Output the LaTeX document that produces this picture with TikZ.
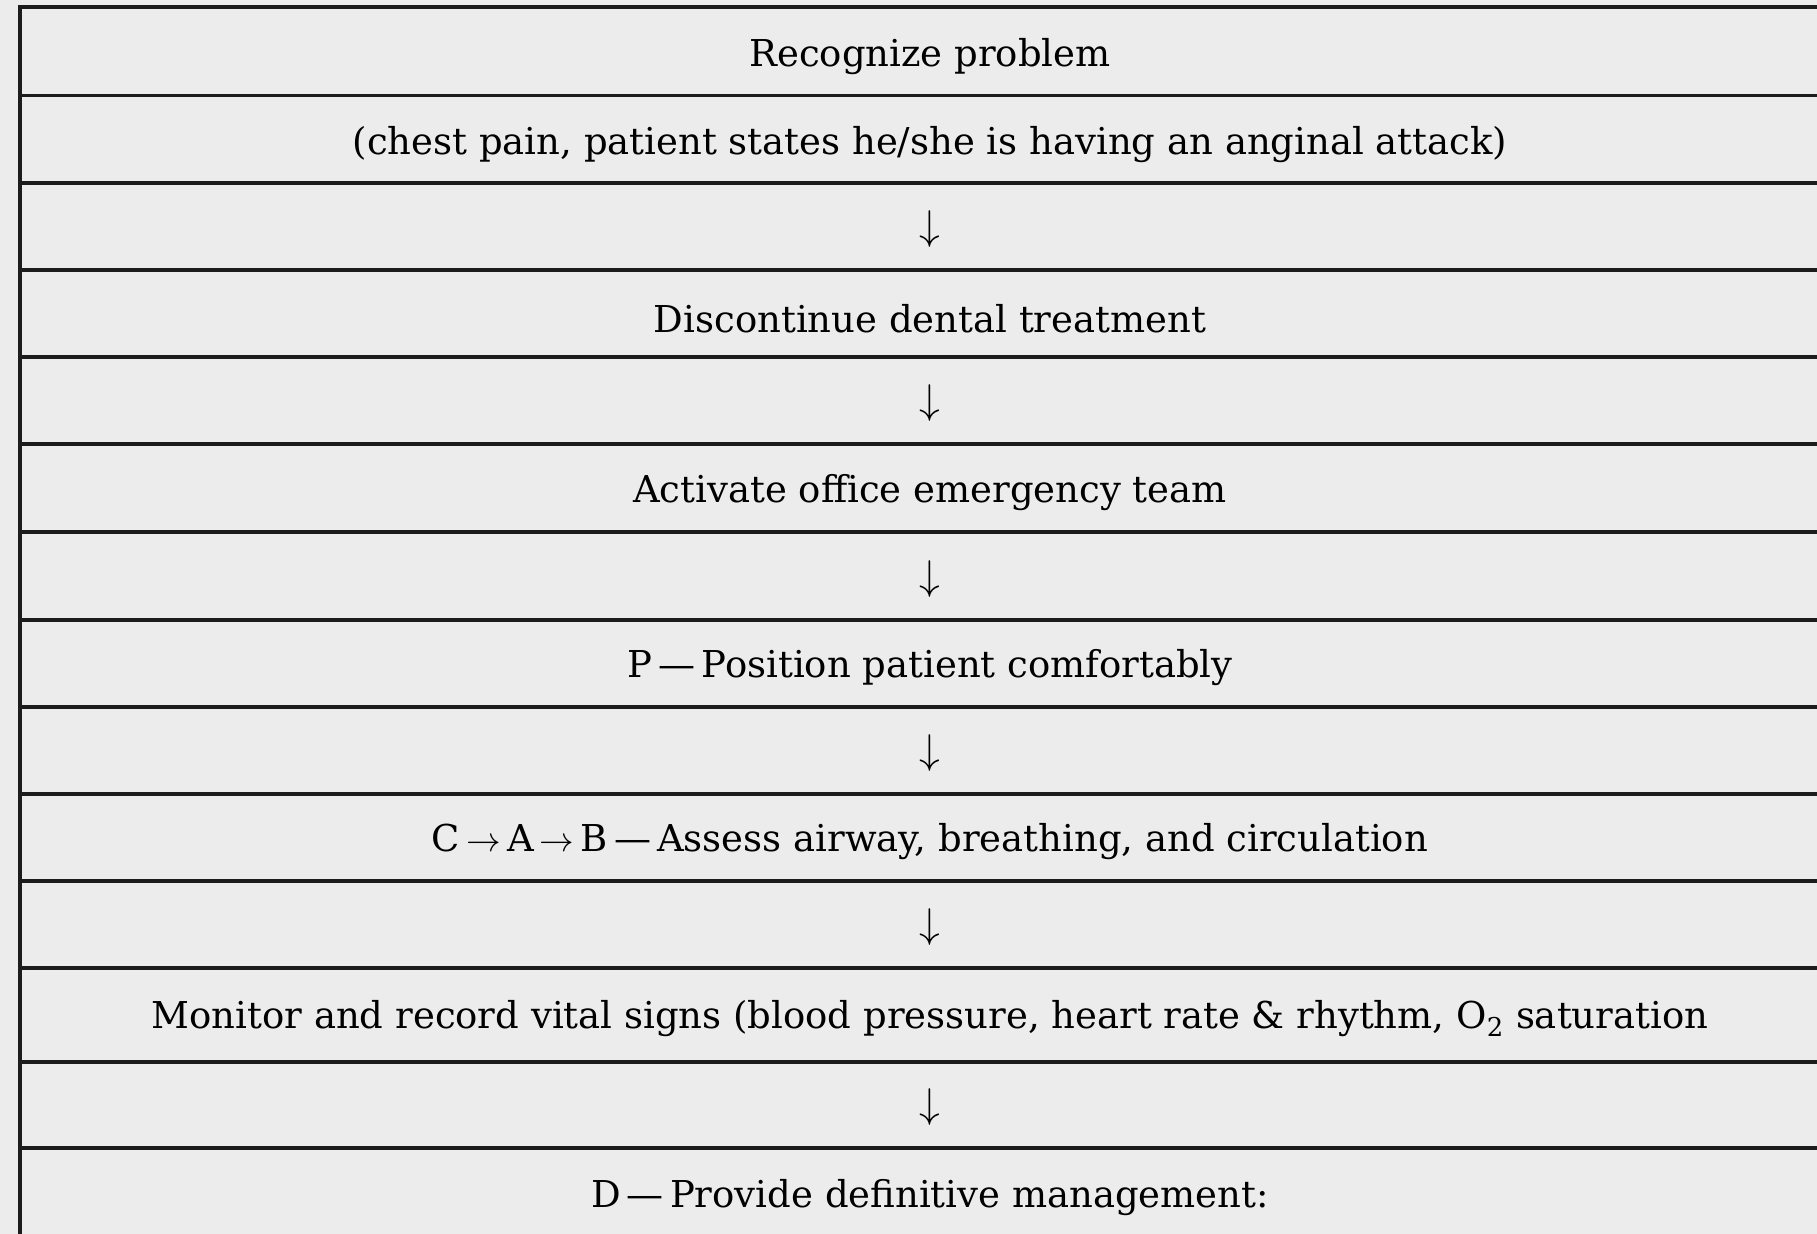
\documentclass[tikz,border=0pt]{standalone}
\usepackage{fontspec}
\setmainfont{DejaVu Serif}
\definecolor{bg}{HTML}{ECECEC}
\definecolor{ln}{HTML}{1C1C1C}
\begin{document}
\begin{tikzpicture}[x=0.5pt,y=-0.5pt,
  rowtext/.style={font=\fontsize{18.5}{22}\selectfont, text=black, anchor=center, inner sep=0pt},
  rowarrow/.style={font=\fontsize{22}{24}\selectfont, text=black, anchor=center, inner sep=0pt},
  rule/.style={draw=ln, line width=1.6pt}]
\fill[bg] (0,0) rectangle (1817,1234);
\useasboundingbox (0,0) rectangle (1817,1234);
% frame and row rules
\draw[rule] (20,1240) -- (20,7) -- (1830,7);
\foreach \yy in {95.5,183,270,357,444,532,620,707,794,881,968,1062,1148}
  \draw[rule] (20,\yy) -- (1830,\yy);
% rows
\node[rowtext] (r1) at (930,57) {Recognize problem};
\node[rowtext] (r2) at (930,145) {(chest pain, patient states he/she is having an anginal attack)};
\node[rowarrow] (r3) at (930,229) {$\downarrow$};
\node[rowtext] (r4) at (930,319) {Discontinue dental treatment};
\node[rowarrow] (r5) at (930,403) {$\downarrow$};
\node[rowtext] (r6) at (930,493) {Activate office emergency team};
\node[rowarrow] (r7) at (930,579) {$\downarrow$};
\node[rowtext] (r8) at (930,668) {P\,---\,Position patient comfortably};
\node[rowarrow] (r9) at (930,753) {$\downarrow$};
\node[rowtext] (r10) at (930,842) {C\,$\rightarrow$\,A\,$\rightarrow$\,B\,---\,Assess airway, breathing, and circulation};
\node[rowarrow] (r11) at (930,927) {$\downarrow$};
\node[rowtext] (r12) at (930,1019) {Monitor and record vital signs (blood pressure, heart rate \& rhythm, O\textsubscript{2} saturation};
\node[rowarrow] (r13) at (930,1107) {$\downarrow$};
\node[rowtext] (r14) at (930,1198) {D\,---\,Provide definitive management:};
\end{tikzpicture}
\end{document}
